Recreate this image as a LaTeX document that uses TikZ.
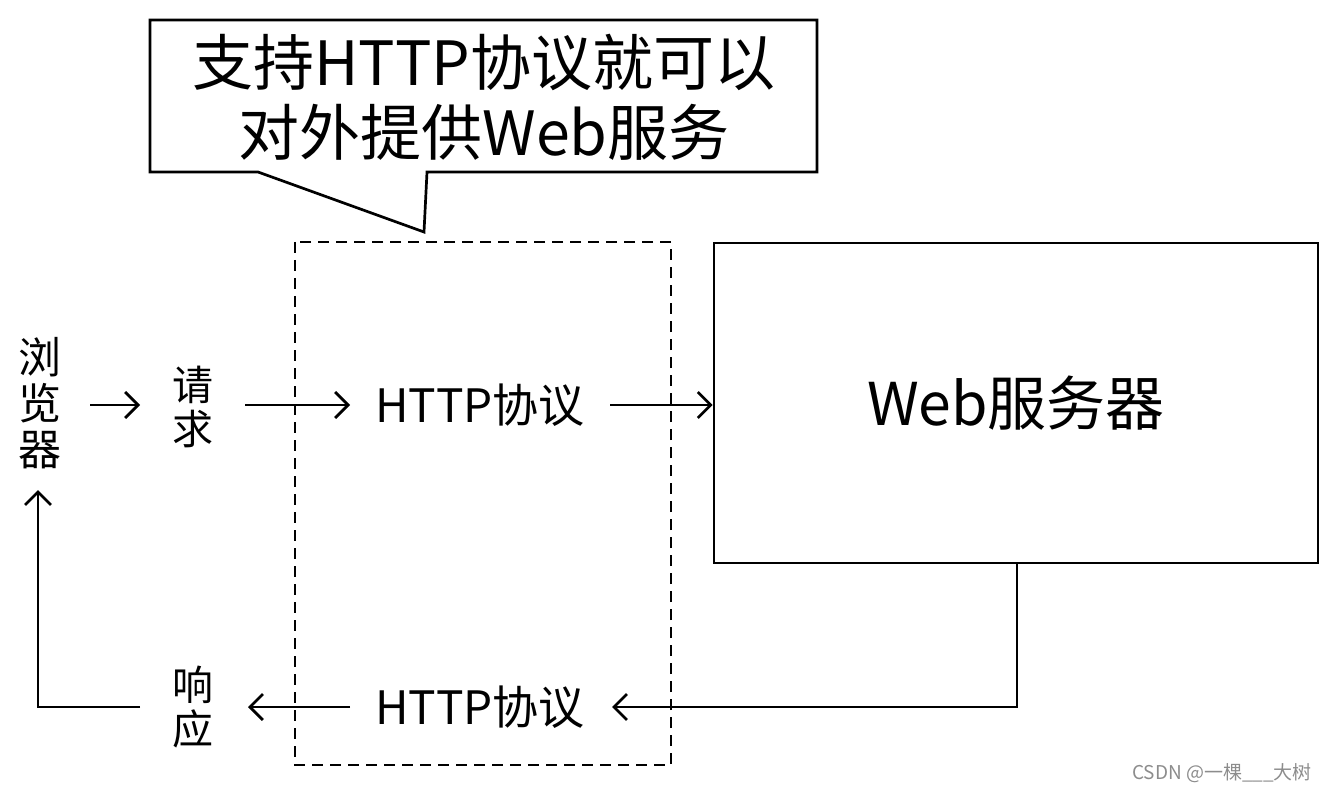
\documentclass[tikz,border=0pt]{standalone}
\usepackage{fontspec}
\setmainfont{Noto Sans CJK SC}
\usetikzlibrary{arrows.meta}
\tikzset{
  line/.style={line width=2.7pt, draw=black},
  arr/.style={line, -{Straight Barb[length=13pt,width=26pt,line width=2.7pt]}},
  lbl/.style={inner sep=0pt, align=center},
}
\begin{document}
\begin{tikzpicture}[x=1pt,y=-1pt]
\useasboundingbox (0,0) rectangle (1329,791);
% callout
\draw[line] (150,20) -- (817,20) -- (817,172) -- (427,172) -- (424,232) -- (258,172) -- (150,172) -- cycle;
\node[lbl, font=\fontsize{61}{70}\selectfont] (callout) at (484,97) {支持HTTP协议就可以\\对外提供Web服务};
% dashed box
\draw[line, dash pattern=on 11pt off 7pt] (295,242) rectangle (671,765);
% web server box
\node[line, draw, minimum width=604pt, minimum height=320pt, inner sep=0pt,
      font=\fontsize{59}{60}\selectfont] (web) at (1016,403) {Web服务器};
% labels
\node[lbl, font=\fontsize{43}{46}\selectfont] (browser) at (40,403) {浏\\览\\器};
\node[lbl, font=\fontsize{41}{44}\selectfont] (req) at (193,407) {请\\求};
\node[lbl, font=\fontsize{41}{44}\selectfont] (resp) at (193,707) {响\\应};
\node[lbl, font=\fontsize{46}{48}\selectfont] (http1) at (480,405) {HTTP协议};
\node[lbl, font=\fontsize{46}{48}\selectfont] (http2) at (480,707) {HTTP协议};
\node[lbl, font=\fontsize{19}{22}\selectfont, text=black!45] (wm) at (1222,773) {CSDN @一棵\_\_\_大树};
% connector end points
\coordinate (a1s) at (90,405);
\coordinate (a1e) at (140,405);
\coordinate (a2s) at (245,405);
\coordinate (a2e) at (350,405);
\coordinate (a3s) at (610,405);
\coordinate (r1) at (1017,707);
\coordinate (r1e) at (612,707);
\coordinate (r2s) at (350,707);
\coordinate (r2e) at (248,707);
\coordinate (r3s) at (140,707);
\coordinate (r3c) at (38,707);
\coordinate (r3e) at (38,490);
% connectors
\draw[arr] (a1s) -- (a1e);
\draw[arr] (a2s) -- (a2e);
\draw[arr] (a3s) -- (web.west |- a3s);
\draw[arr] (web.south -| r1) -- (r1) -- (r1e);
\draw[arr] (r2s) -- (r2e);
\draw[arr] (r3s) -- (r3c) -- (r3e);
\end{tikzpicture}
\end{document}
